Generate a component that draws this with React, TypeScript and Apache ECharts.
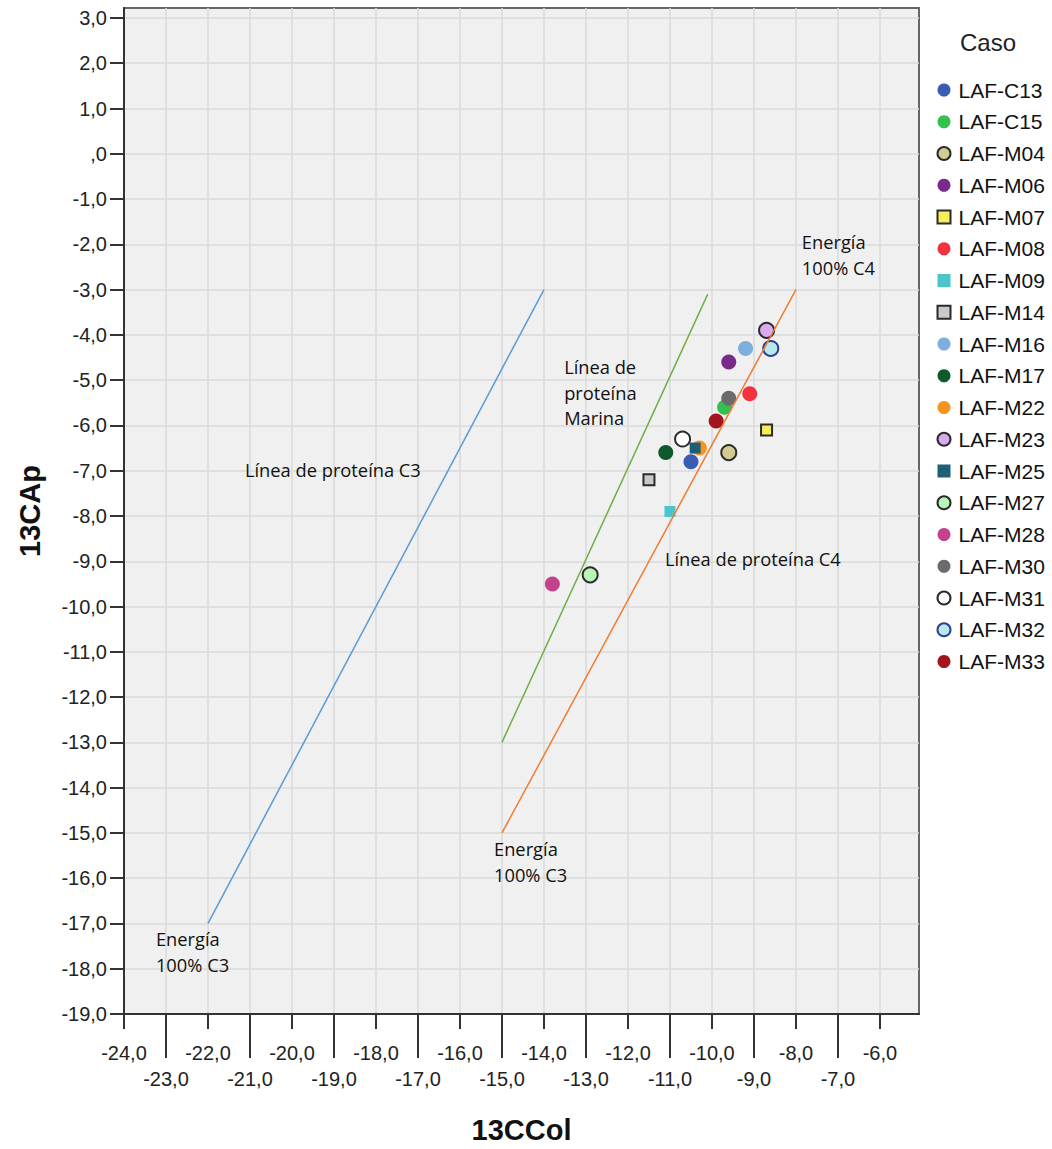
import React, { useEffect, useRef } from 'react';
import * as echarts from 'echarts';

// ---- data ----
const caseNames = [
  'LAF-C13', 'LAF-C15', 'LAF-M04', 'LAF-M06', 'LAF-M07', 'LAF-M08', 'LAF-M09',
  'LAF-M14', 'LAF-M16', 'LAF-M17', 'LAF-M22', 'LAF-M23', 'LAF-M25', 'LAF-M27',
  'LAF-M28', 'LAF-M30', 'LAF-M31', 'LAF-M32', 'LAF-M33',
];
const col13 = [-10.5, -9.7, -9.6, -9.6, -8.7, -9.1, -11.0, -11.5, -9.2, -11.1, -10.3, -8.7, -10.4, -12.9, -13.8, -9.6, -10.7, -8.6, -9.9];
const ap13 = [-6.8, -5.6, -6.6, -4.6, -6.1, -5.3, -7.9, -7.2, -4.3, -6.6, -6.5, -3.9, -6.5, -9.3, -9.5, -5.4, -6.3, -4.3, -5.9];

const proteinC3Line = [[-22, -17], [-14, -3]];
const proteinMarineLine = [[-15, -13], [-10.1, -3.1]];
const proteinC4Line = [[-15, -15], [-8, -3]];

const xEvenTicks = [-24, -22, -20, -18, -16, -14, -12, -10, -8, -6];
const xOddTicks = [-23, -21, -19, -17, -15, -13, -11, -9, -7];
const yTicks = [3, 2, 1, 0, -1, -2, -3, -4, -5, -6, -7, -8, -9, -10, -11, -12, -13, -14, -15, -16, -17, -18, -19];

const annotationTexts = [
  'Línea de proteína C3',
  'Línea de\nproteína\nMarina',
  'Energía\n100% C4',
  'Línea de proteína C4',
  'Energía\n100% C3',
  'Energía\n100% C3',
];
const annotationAnchors = [
  [-21.12, -6.98],
  [-13.52, -5.27],
  [-7.86, -2.23],
  [-11.12, -8.93],
  [-15.19, -15.63],
  [-23.24, -17.62],
];

// ---- styles ----
const DARK = '#2b2b2b';
const caseStyles: Record<string, { symbol: string; color: string; border?: string }> = {
  'LAF-C13': { symbol: 'circle', color: '#3c5bb5' },
  'LAF-C15': { symbol: 'circle', color: '#33c04e' },
  'LAF-M04': { symbol: 'circle', color: '#d3cc92', border: DARK },
  'LAF-M06': { symbol: 'circle', color: '#7a2a8a' },
  'LAF-M07': { symbol: 'rect', color: '#f4ee5a', border: DARK },
  'LAF-M08': { symbol: 'circle', color: '#f2323e' },
  'LAF-M09': { symbol: 'rect', color: '#4ac6cb' },
  'LAF-M14': { symbol: 'rect', color: '#c9c9c9', border: DARK },
  'LAF-M16': { symbol: 'circle', color: '#7eaedd' },
  'LAF-M17': { symbol: 'circle', color: '#0e5a2e' },
  'LAF-M22': { symbol: 'circle', color: '#f7941e' },
  'LAF-M23': { symbol: 'circle', color: '#d9aaee', border: DARK },
  'LAF-M25': { symbol: 'rect', color: '#1e5e77' },
  'LAF-M27': { symbol: 'circle', color: '#b8f5b8', border: DARK },
  'LAF-M28': { symbol: 'circle', color: '#c4428b' },
  'LAF-M30': { symbol: 'circle', color: '#6b6b6b' },
  'LAF-M31': { symbol: 'circle', color: '#ffffff', border: DARK },
  'LAF-M32': { symbol: 'circle', color: '#b6e8ee', border: '#2e3f8f' },
  'LAF-M33': { symbol: 'circle', color: '#a3141f' },
};

const AXIS_FONT = '"Liberation Sans", Arial, sans-serif';
const NOTE_FONT = '"Open Sans", Lato, sans-serif';

function fmt(v: number): string {
  const a = Math.abs(v).toFixed(1).replace('.', ',');
  const s = a.startsWith('0,') ? a.slice(1) : a;
  return v < 0 ? '-' + s : s;
}

export default function App() {
  const ref = useRef<HTMLDivElement>(null);
  useEffect(() => {
    document.body.style.margin = '0';
    if (!ref.current) return;
    const chart = echarts.init(ref.current, null, { renderer: 'svg' });

    const scatterSeries = caseNames.map((name, i) => {
      const st = caseStyles[name];
      return {
        type: 'scatter',
        name,
        data: [[col13[i], ap13[i]]],
        symbol: st.symbol,
        symbolSize: st.symbol === 'rect' ? 11 : 15,
        itemStyle: {
          color: st.color,
          borderColor: st.border || st.color,
          borderWidth: st.border ? 2 : 0,
          opacity: 1,
        },
        silent: true,
        z: 3,
      };
    });
    const lineSeries = [
      { data: proteinC3Line, color: '#5b9bd5' },
      { data: proteinMarineLine, color: '#70ad47' },
      { data: proteinC4Line, color: '#ed7d31' },
    ].map((l) => ({
      type: 'line',
      data: l.data,
      symbol: 'none',
      lineStyle: { color: l.color, width: 1.5 },
      silent: true,
      z: 4,
    }));

    const axisLabelStyle = { fontFamily: AXIS_FONT, fontSize: 20, color: '#222' };
    const xCommon = {
      type: 'value',
      min: -24,
      max: -5.07,
      interval: 1,
      position: 'bottom',
      splitLine: { show: true, lineStyle: { color: '#dadada', width: 1.5 } },
    };

    chart.setOption({
      animation: false,
      backgroundColor: '#ffffff',
      grid: {
        left: 124, right: 133, top: 8, bottom: 131,
        show: true, backgroundColor: '#f0f0f0', borderColor: '#666', borderWidth: 2,
      },
      xAxis: [
        {
          ...xCommon,
          name: '13CCol',
          nameLocation: 'middle',
          nameGap: 101,
          nameTextStyle: { fontFamily: AXIS_FONT, fontSize: 29, fontWeight: 'bold', color: '#111' },
          axisLine: { show: true, onZero: false, lineStyle: { color: '#333', width: 2 } },
          axisTick: { show: true, length: 15, customValues: xEvenTicks, lineStyle: { color: '#333', width: 2 } },
          axisLabel: { ...axisLabelStyle, margin: 29, customValues: xEvenTicks, formatter: (v: number) => fmt(v) },
        },
        {
          ...xCommon,
          axisLine: { show: false, onZero: false },
          axisTick: { show: true, length: 44, customValues: xOddTicks, lineStyle: { color: '#333', width: 2 } },
          axisLabel: { ...axisLabelStyle, margin: 55, customValues: xOddTicks, formatter: (v: number) => fmt(v) },
        },
      ],
      yAxis: {
        type: 'value',
        min: -19,
        max: 3.22,
        interval: 1,
        name: '13CAp',
        nameLocation: 'middle',
        nameGap: 80,
        nameTextStyle: { fontFamily: AXIS_FONT, fontSize: 29, fontWeight: 'bold', color: '#111' },
        axisLine: { show: true, onZero: false, lineStyle: { color: '#333', width: 2 } },
        axisTick: { show: true, length: 14, customValues: yTicks, lineStyle: { color: '#333', width: 2 } },
        axisLabel: { ...axisLabelStyle, margin: 17, customValues: yTicks, formatter: (v: number) => fmt(v) },
        splitLine: { show: true, lineStyle: { color: '#dadada', width: 1.5 } },
      },
      legend: {
        orient: 'vertical',
        left: 931.5,
        top: 74.5,
        itemWidth: 13,
        itemHeight: 13,
        itemGap: 10.75,
        selectedMode: false,
        data: caseNames,
        textStyle: { fontFamily: AXIS_FONT, fontSize: 21, color: '#111', lineHeight: 13, padding: [0, 0, 0, 3] },
      },
      series: [...scatterSeries, ...lineSeries],
    });

    const notes = annotationTexts.map((text, i) => {
      const p = chart.convertToPixel({ gridIndex: 0 }, annotationAnchors[i]) as number[];
      return {
        type: 'text',
        x: p[0],
        y: p[1],
        silent: true,
        z: 10,
        style: {
          text,
          fontFamily: NOTE_FONT,
          fontSize: 18.3,
          lineHeight: 25.5,
          fill: '#111',
          align: 'left',
          verticalAlign: 'middle',
        },
      };
    });
    chart.setOption({
      graphic: [
        ...notes,
        {
          type: 'text',
          x: 960,
          y: 42,
          silent: true,
          style: { text: 'Caso', fontFamily: AXIS_FONT, fontSize: 24, fill: '#222', align: 'left', verticalAlign: 'middle' },
        },
      ],
    });

    return () => chart.dispose();
  }, []);
  return <div ref={ref} style={{ width: 1052, height: 1149 }} />;
}
